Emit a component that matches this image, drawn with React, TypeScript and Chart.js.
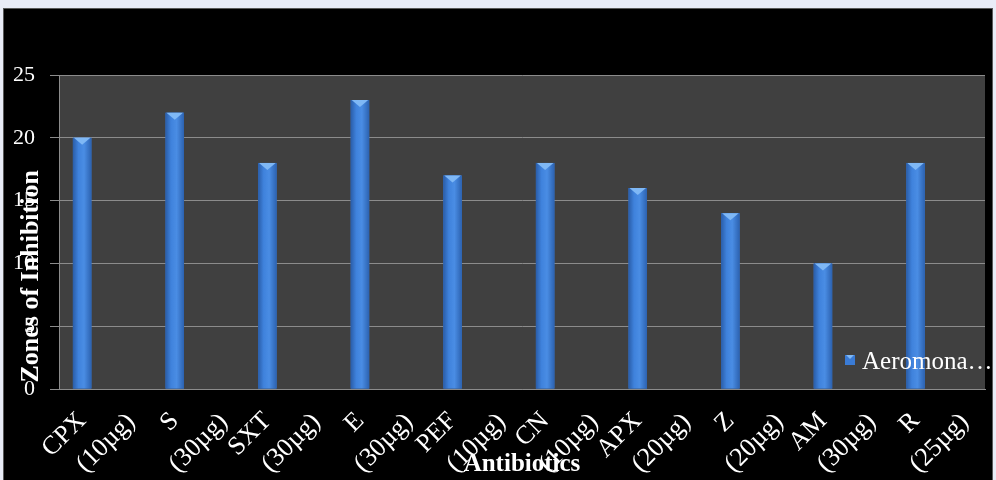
import React, { useEffect, useRef } from "react";
import { Chart, registerables } from "chart.js";

Chart.register(...registerables);

const categories: string[][] = [
  ["CPX", "(10µg)"],
  ["S", "(30µg)"],
  ["SXT", "(30µg)"],
  ["E", "(30µg)"],
  ["PEF", "(10µg)"],
  ["CN", "(10µg)"],
  ["APX", "(20µg)"],
  ["Z", "(20µg)"],
  ["AM", "(30µg)"],
  ["R", "(25µg)"],
];
const aeromonasValues = [20, 22, 18, 23, 17, 18, 16, 14, 10, 18];
const emptySeries = [null, null, null, null, null, null, null, null, null, null];
const seriesName = "Aeromona…";
const yTitle = "Zones of Inhibition";
const xTitle = "Antibiotics";
const yMin = 0;
const yMax = 25;
const yStep = 5;

const FONT = "'Liberation Serif', 'Times New Roman', serif";

export default function App() {
  const ref = useRef<HTMLCanvasElement | null>(null);

  useEffect(() => {
    if (!ref.current) return;

    const background = {
      id: "background",
      beforeDraw(chart: any) {
        const { ctx, chartArea: a } = chart;
        ctx.save();
        ctx.fillStyle = "#000000";
        ctx.fillRect(0, 0, chart.width, chart.height);
        ctx.strokeStyle = "#5a5a5a";
        ctx.lineWidth = 1;
        ctx.strokeRect(0.5, 0.5, chart.width - 1, chart.height);
        ctx.fillStyle = "#404040";
        ctx.fillRect(a.left, a.top, a.right - a.left, a.bottom - a.top);

        // category labels, placed with the x scale
        const xs = chart.scales.x;
        ctx.fillStyle = "#ffffff";
        ctx.font = `26px ${FONT}`;
        ctx.textAlign = "right";
        ctx.textBaseline = "middle";
        categories.forEach((lines, i) => {
          const c = xs.getPixelForValue(i);
          const anchors = [
            [c - 23, xs.top + 28],
            [c + 26, xs.top + 29],
          ];
          lines.forEach((line, j) => {
            const [px, py] = anchors[j];
            ctx.save();
            ctx.translate(px, py);
            ctx.rotate(-Math.PI / 4);
            ctx.fillText(line, 0, 0);
            ctx.restore();
          });
        });
        ctx.restore();
      },
    };

    const barShine = {
      id: "barShine",
      afterDatasetsDraw(chart: any) {
        const { ctx } = chart;
        const meta = chart.getDatasetMeta(0);
        ctx.save();
        meta.data.forEach((bar: any) => {
          const w = bar.width;
          const x0 = bar.x - w / 2;
          const top = bar.y;
          const bottom = bar.base;
          const g = ctx.createLinearGradient(x0, 0, x0 + w, 0);
          g.addColorStop(0, "#2a5da8");
          g.addColorStop(0.3, "#3f82dc");
          g.addColorStop(0.6, "#4a8de4");
          g.addColorStop(1, "#2c62b0");
          ctx.fillStyle = g;
          ctx.fillRect(x0, top, w, bottom - top);
          ctx.fillStyle = "#7fb8f5";
          ctx.beginPath();
          ctx.moveTo(x0 + 1, top);
          ctx.lineTo(x0 + w - 1, top);
          ctx.lineTo(bar.x, top + 7);
          ctx.closePath();
          ctx.fill();
        });
        ctx.restore();
      },
    };

    const legendInPlot = {
      id: "legendInPlot",
      afterDraw(chart: any) {
        const { ctx, chartArea: a } = chart;
        ctx.save();
        const mx = a.right - 135;
        const my = a.bottom - 29;
        ctx.fillStyle = "#3a7bd5";
        ctx.fillRect(mx - 5, my - 5, 10, 10);
        ctx.fillStyle = "#7fb8f5";
        ctx.beginPath();
        ctx.moveTo(mx - 4, my - 5);
        ctx.lineTo(mx + 4, my - 5);
        ctx.lineTo(mx, my - 1);
        ctx.closePath();
        ctx.fill();
        ctx.fillStyle = "#ffffff";
        ctx.font = `25px ${FONT}`;
        ctx.textAlign = "left";
        ctx.textBaseline = "middle";
        ctx.fillText(seriesName, mx + 12, my + 2);
        ctx.restore();
      },
    };

    const chart = new Chart(ref.current, {
      type: "bar",
      data: {
        labels: categories,
        datasets: [
          {
            label: seriesName,
            data: aeromonasValues,
            backgroundColor: "#3a7bd5",
            borderWidth: 0,
            categoryPercentage: 1.0,
            barPercentage: 0.4,
          },
          {
            label: "",
            data: emptySeries as any,
            backgroundColor: "rgba(0,0,0,0)",
            categoryPercentage: 1.0,
            barPercentage: 0.4,
          },
        ],
      },
      options: {
        animation: false,
        responsive: false,
        maintainAspectRatio: false,
        layout: { padding: { top: 67, right: 8, left: 0, bottom: 0 } },
        plugins: {
          legend: { display: false },
          tooltip: { enabled: false },
        },
        scales: {
          x: {
            grid: { display: false, drawTicks: false },
            border: { display: true, color: "#8c8c8c", width: 1 },
            ticks: { display: false, autoSkip: false },
            title: {
              display: true,
              text: xTitle,
              color: "#ffffff",
              font: { family: FONT, size: 25, weight: "bold" },
              padding: { top: 0, bottom: 0 },
            },
            afterFit(scale: any) {
              scale.height = 91;
            },
          },
          y: {
            min: yMin,
            max: yMax,
            ticks: {
              stepSize: yStep,
              color: "#ffffff",
              font: { family: FONT, size: 22 },
              padding: 15,
            },
            grid: {
              color: "#8c8c8c",
              lineWidth: 1,
              tickLength: 9,
              drawTicks: true,
            },
            border: { display: true, color: "#8c8c8c", width: 1 },
            title: {
              display: true,
              text: " " + yTitle,
              align: "start",
              color: "#ffffff",
              font: { family: FONT, size: 26, weight: "bold" },
              padding: { top: 13, bottom: 0 },
            },
            afterFit(scale: any) {
              scale.width = 56;
            },
          },
        },
      },
      plugins: [background, barShine, legendInPlot],
    });

    return () => chart.destroy();
  }, []);

  return (
    <div
      style={{
        position: "absolute",
        left: 0,
        top: 0,
        width: 996,
        height: 480,
        background: "#e9ecf7",
        overflow: "hidden",
      }}
    >
      <canvas
        ref={ref}
        width={990}
        height={472}
        style={{ position: "absolute", left: 3, top: 8, width: 990, height: 472 }}
      />
    </div>
  );
}
